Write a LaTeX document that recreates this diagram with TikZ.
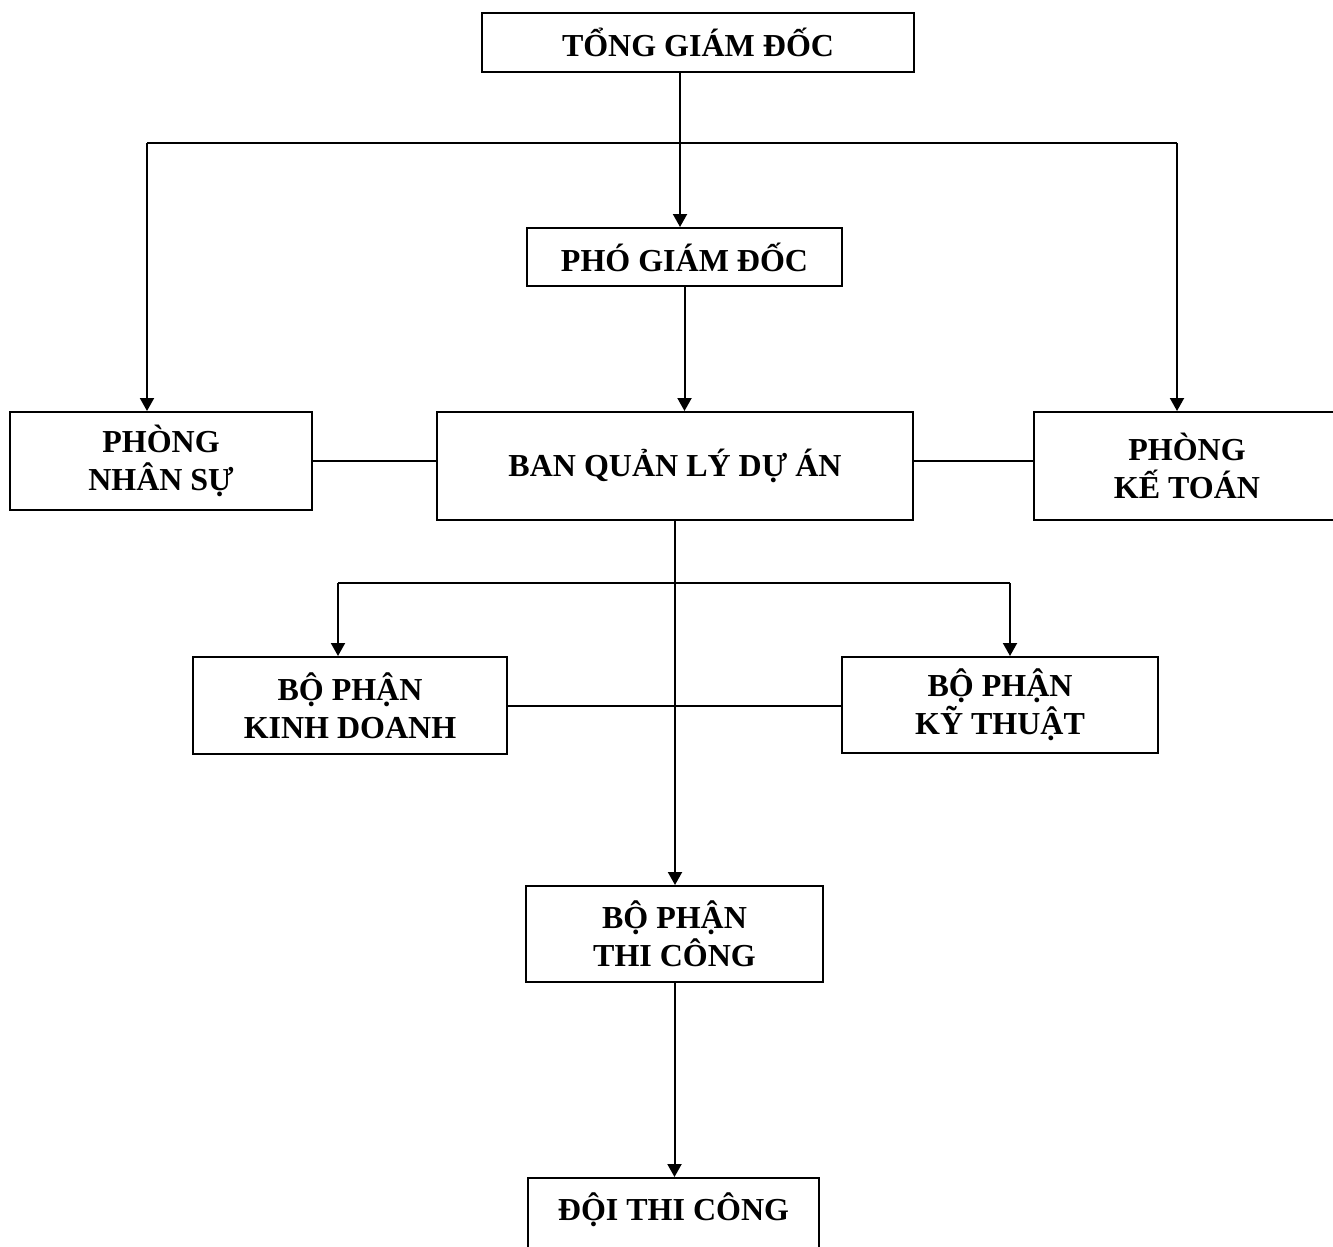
\documentclass[tikz,border=0pt]{standalone}
\usepackage{fontspec}
\setmainfont{Liberation Serif}
\usetikzlibrary{arrows.meta}
\begin{document}
\begin{tikzpicture}[x=0.5pt,y=-0.5pt,
  box/.style={draw, line width=1pt, font=\bfseries\fontsize{16}{19}\selectfont, align=center, inner sep=0pt},
  conn/.style={line width=1pt},
  arr/.style={line width=1pt, -{Triangle[length=6.5pt,width=7pt]}}]
\useasboundingbox (0,0) rectangle (1333,1247);
\fill[white] (0,0) rectangle (1333,1247);
\clip (0,0) rectangle (1333,1247);
% nodes
\node[box, minimum width=216pt, minimum height=29.5pt] (tgd) at (698,42.5) {TỔNG GIÁM ĐỐC};
\node[box, minimum width=157.5pt, minimum height=29pt] (pgd) at (684.5,257) {PHÓ GIÁM ĐỐC};
\node[box, minimum width=151pt, minimum height=49pt] (pns) at (161,461) {PHÒNG\\NHÂN SỰ};
\node[box, minimum width=238pt, minimum height=54pt] (bql) at (675,466) {BAN QUẢN LÝ DỰ ÁN};
\node[box, minimum width=153pt, minimum height=54pt] (pkt) at (1187,466) {PHÒNG\\KẾ TOÁN};
\node[box, minimum width=157pt, minimum height=48.5pt] (bpkd) at (350,705.5) {BỘ PHẬN\\KINH DOANH};
\node[box, minimum width=158pt, minimum height=48pt] (bpkt) at (1000,705) {BỘ PHẬN\\KỸ THUẬT};
\node[box, minimum width=148.5pt, minimum height=48pt] (bptc) at (674.5,934) {BỘ PHẬN\\THI CÔNG};
\node[box, anchor=north, minimum width=145.5pt, text height=21pt, text depth=30pt] (dtc) at (673.5,1177) {ĐỘI THI CÔNG};
% helper coordinates
\coordinate (x680) at (680,0);
\coordinate (hl) at (147,143);
\coordinate (hr) at (1177,143);
\coordinate (bl) at (338,583);
\coordinate (br) at (1010,583);
% connectors
\draw[arr] (tgd.south -| x680) -- (pgd.north -| x680);
\draw[conn] (hl) -- (hr);
\draw[arr] (hl) -- (hl |- pns.north);
\draw[arr] (hr) -- (hr |- pkt.north);
\draw[arr] (pgd.south) -- (pgd.south |- bql.north);
\draw[conn] (pns.east) -- (pns.east -| bql.west);
\draw[conn] (bql.east |- pns.east) -- (pkt.west |- pns.east);
\draw[arr] (bql.south) -- (bql.south |- bptc.north);
\draw[conn] (bl) -- (br);
\draw[arr] (bl) -- (bl |- bpkd.north);
\draw[arr] (br) -- (br |- bpkt.north);
\draw[conn] (bpkd.east) -- (bpkd.east -| bpkt.west);
\draw[arr] (bptc.south) -- (bptc.south |- dtc.north);
\end{tikzpicture}
\end{document}
